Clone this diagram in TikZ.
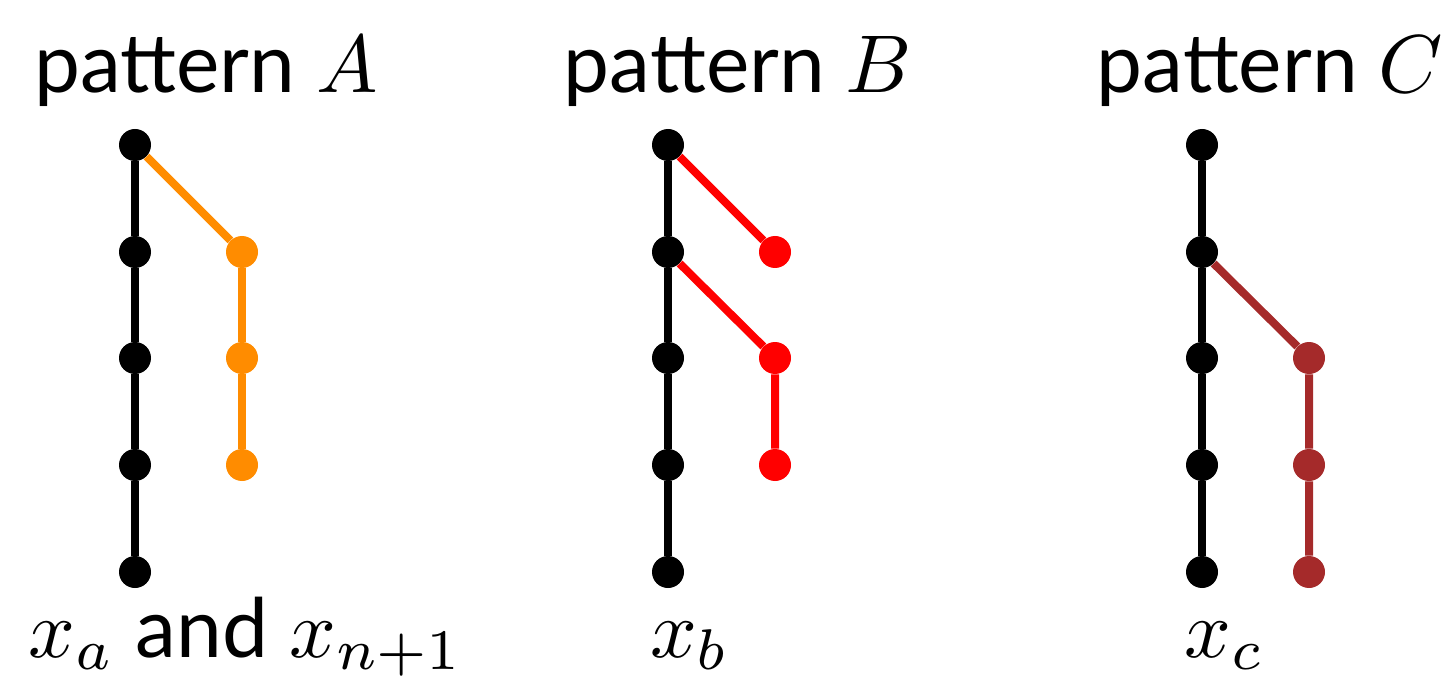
\documentclass[tikz,border=0pt]{standalone}
\usepackage{fontspec}
\usepackage{graphicx}
\setsansfont{Lato}
\definecolor{porange}{RGB}{255,140,0}
\definecolor{pred}{RGB}{255,0,0}
\definecolor{pbrown}{RGB}{165,42,42}
\newcommand{\bigtxt}[1]{\scalebox{4.1}{\sffamily #1}}
\tikzset{
  dot/.style={circle,fill=#1,inner sep=0pt,minimum size=16pt},
  dot/.default=black,
  edge/.style={line width=4pt,draw=#1},
  edge/.default=black,
  lbl/.style={anchor=base,inner sep=0pt}
}
\begin{document}
\begin{tikzpicture}[x=0.5pt,y=-0.5pt]
\useasboundingbox (0,0) rectangle (1451,695);
\foreach \i/\y in {1/145,2/252,3/358,4/465,5/572}{
  \node[dot] (a\i) at (135,\y) {};
  \node[dot] (b\i) at (668,\y) {};
  \node[dot] (c\i) at (1202,\y) {};
}
\node[dot=porange] (ar2) at (242,252) {};
\node[dot=porange] (ar3) at (242,358) {};
\node[dot=porange] (ar4) at (242,465) {};
\node[dot=pred] (br2) at (775,252) {};
\node[dot=pred] (br3) at (775,358) {};
\node[dot=pred] (br4) at (775,465) {};
\node[dot=pbrown] (cr3) at (1309,358) {};
\node[dot=pbrown] (cr4) at (1309,465) {};
\node[dot=pbrown] (cr5) at (1309,572) {};
\draw[edge] (a1) -- (a2) -- (a3) -- (a4) -- (a5);
\draw[edge] (b1) -- (b2) -- (b3) -- (b4) -- (b5);
\draw[edge] (c1) -- (c2) -- (c3) -- (c4) -- (c5);
\draw[edge=porange] (a1) -- (ar2);
\draw[edge=porange] (ar2) -- (ar3) -- (ar4);
\draw[edge=pred] (b1) -- (br2);
\draw[edge=pred] (b2) -- (br3) -- (br4);
\draw[edge=pbrown] (c2) -- (cr3) -- (cr4) -- (cr5);
\node[lbl] (tA) at (206,93) {\bigtxt{pattern $A$}};
\node[lbl] (tB) at (738,93) {\bigtxt{pattern $B$}};
\node[lbl] (tC) at (1270,93) {\bigtxt{pattern $C$}};
\node[lbl] (bA) at (246,657) {\bigtxt{$x_a$ and $x_{n+1}$}};
\node[lbl] (bB) at (690,657) {\bigtxt{$x_b$}};
\node[lbl] (bC) at (1225,657) {\bigtxt{$x_c$}};
\end{tikzpicture}
\end{document}
